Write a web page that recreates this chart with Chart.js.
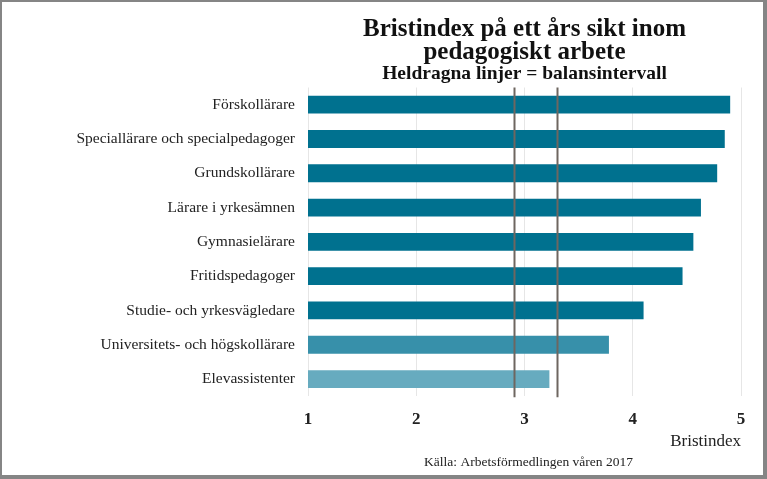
<!DOCTYPE html>
<html>
<head>
<meta charset="utf-8">
<script src="https://cdn.jsdelivr.net/npm/chart.js@4.4.0/dist/chart.umd.min.js"></script>
<style>
  html, body { margin: 0; padding: 0; background: #fff; }
  #wrap {
    width: 767px; height: 479px; box-sizing: border-box;
    border-left: 2px solid #858585; border-top: 2px solid #858585;
    border-right: 4px solid #858585; border-bottom: 4px solid #858585;
    background: #fff;
  }
</style>
</head>
<body>
<div id="wrap"><canvas id="bristChart" width="761" height="473"></canvas></div>
<script>
  const yrken = [
    'Förskollärare',
    'Speciallärare och specialpedagoger',
    'Grundskollärare',
    'Lärare i yrkesämnen',
    'Gymnasielärare',
    'Fritidspedagoger',
    'Studie- och yrkesvägledare',
    'Universitets- och högskollärare',
    'Elevassistenter'
  ];
  const bristindex = [4.90, 4.85, 4.78, 4.63, 4.56, 4.46, 4.10, 3.78, 3.23];
  const stapelFarger = ['#00718f', '#00718f', '#00718f', '#00718f', '#00718f',
                        '#00718f', '#00718f', '#3790aa', '#67abbf'];
  const balansintervall = [2.9, 3.3];
  const skalaTicks = [1, 2, 3, 4, 5];

  const serif = "'Liberation Serif', 'DejaVu Serif', serif";

  // balansintervallets linjer + källtext
  const extraRitning = {
    id: 'extraRitning',
    afterDatasetsDraw(chart) {
      const ctx = chart.ctx;
      const x = chart.scales.x;
      const area = chart.chartArea;
      ctx.save();
      ctx.strokeStyle = '#6e6660';
      ctx.lineWidth = 2;
      balansintervall.forEach(v => {
        const px = Math.round(x.getPixelForValue(v)) + 0.5;
        ctx.beginPath();
        ctx.moveTo(px, area.top);
        ctx.lineTo(px, area.bottom + 1);
        ctx.stroke();
      });
      ctx.fillStyle = '#222';
      ctx.font = '13.5px ' + serif;
      ctx.textAlign = 'center';
      ctx.textBaseline = 'middle';
      ctx.fillText('Källa: Arbetsförmedlingen våren 2017', (area.left + area.right) / 2 + 4, 460);
      ctx.restore();
    }
  };

  const ctx = document.getElementById('bristChart').getContext('2d');
  new Chart(ctx, {
    type: 'bar',
    data: {
      labels: yrken,
      datasets: [{
        data: bristindex,
        backgroundColor: stapelFarger,
        borderWidth: 0,
        categoryPercentage: 1,
        barPercentage: 0.52
      }]
    },
    options: {
      indexAxis: 'y',
      responsive: false,
      animation: false,
      layout: { padding: { left: 0, right: 22, top: 4, bottom: 23 } },
      scales: {
        x: {
          min: 1,
          max: 5,
          afterBuildTicks: axis => { axis.ticks = skalaTicks.map(v => ({ value: v })); },
          grid: { color: '#e6e6e6', lineWidth: 1, drawTicks: false },
          border: { display: false },
          ticks: {
            color: '#222',
            padding: 13,
            font: { family: serif, size: 17, weight: 'bold' }
          },
          title: {
            display: true,
            text: 'Bristindex',
            align: 'end',
            color: '#222',
            padding: { top: -11, bottom: 0 },
            font: { family: serif, size: 17 }
          }
        },
        y: {
          afterFit: axis => { axis.width = 306; },
          grid: { display: false },
          border: { display: false },
          ticks: {
            color: '#222',
            padding: 5,
            font: { family: serif, size: 15.5 }
          }
        }
      },
      plugins: {
        legend: { display: false },
        tooltip: { enabled: false },
        title: {
          display: true,
          fullSize: false,
          text: ['Bristindex på ett års sikt inom', 'pedagogiskt arbete'],
          color: '#111',
          font: { family: serif, size: 25, weight: 'bold', lineHeight: 0.92 },
          padding: { top: 12, bottom: 0 }
        },
        subtitle: {
          display: true,
          fullSize: false,
          text: 'Heldragna linjer = balansintervall',
          color: '#111',
          font: { family: serif, size: 19.5, weight: 'bold', lineHeight: 0.95 },
          padding: { top: 1, bottom: 4 }
        }
      }
    },
    plugins: [extraRitning]
  });
</script>
</body>
</html>
